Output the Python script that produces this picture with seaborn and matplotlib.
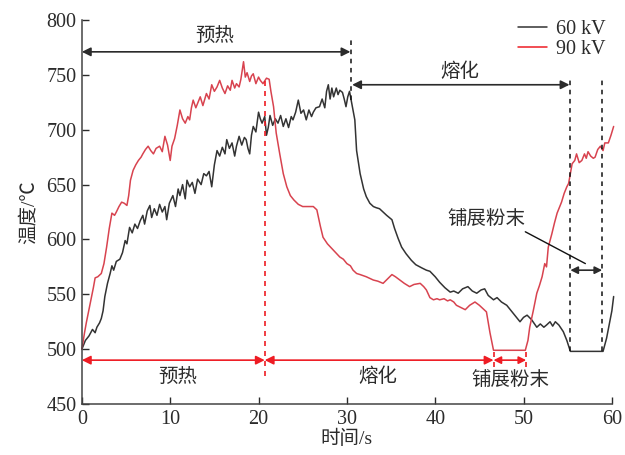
import matplotlib
matplotlib.use("Agg")
import matplotlib.pyplot as plt
import seaborn as sns
import pandas as pd
from matplotlib.lines import Line2D

# Temperature records for the two beam voltages (time in s, temperature in °C)
t_60kv = [0, 0.4, 0.8, 1.2, 1.5, 1.7, 2.0, 2.2, 2.4, 2.6, 2.9, 3.2, 3.4, 3.6, 3.9, 4.3, 4.6, 4.9,
          5.1, 5.4, 5.7, 6.0, 6.3, 6.6, 6.9, 7.1, 7.4, 7.7, 7.9, 8.2, 8.5, 8.8, 9.1, 9.4, 9.6, 9.9,
          10.3, 10.6, 10.9, 11.1, 11.4, 11.7, 11.9, 12.2, 12.5, 12.8, 13.1, 13.5, 13.8, 14.1, 14.4,
          14.7, 15.0, 15.3, 15.6, 15.9, 16.2, 16.4, 16.7, 17.0, 17.3, 17.5, 17.8, 18.1, 18.4, 18.6,
          18.8, 19.0, 19.2, 19.4, 19.7, 20.0, 20.2, 20.4, 20.7, 20.9, 21.1, 21.3, 21.6, 21.9, 22.2,
          22.5, 22.8, 23.1, 23.4, 23.7, 23.9, 24.2, 24.5, 24.8, 25.1, 25.4, 25.7, 26.0, 26.2, 26.5,
          26.9, 27.2, 27.5, 27.7, 27.9, 28.1, 28.3, 28.5, 28.8, 29.0, 29.2, 29.5, 29.7, 29.9, 30.1,
          30.3, 30.6, 30.9, 31.1, 31.5, 31.9, 32.2, 32.6, 33.0, 33.3, 33.7, 34.1, 34.5, 35.1, 35.4,
          35.8, 36.2, 36.7, 37.3, 37.8, 38.5, 39.0, 39.4, 40.0, 40.5, 41.1, 41.7, 42.1, 42.6, 43.1,
          43.7, 44.2, 44.7, 45.2, 45.6, 46.0, 46.6, 47.0, 47.5, 48.1, 48.5, 49.0, 49.6, 50.0,
          50.4, 50.9, 51.5, 51.9, 52.3, 52.6, 53.0, 53.3, 53.6, 54.0, 54.5, 54.9, 55.3, 59.0, 59.4,
          59.8, 60.0, 60.2]
T_60kv = [500, 508, 512, 518, 515, 520, 524, 528, 535, 548, 560, 569, 576, 572, 580, 582, 588, 599,
          596, 611, 606, 614, 610, 617, 622, 614, 626, 631, 620, 628, 622, 632, 625, 630, 618, 633,
          640, 630, 646, 640, 650, 637, 654, 648, 652, 642, 655, 650, 660, 658, 662,
          648, 668, 681, 676, 684, 678, 691, 683, 688, 676, 685, 694, 686, 693, 691,
          683, 678, 695, 703, 698, 716, 710, 706, 712, 695, 702, 713, 704, 710, 706,
          713, 703, 710, 702, 712, 709, 716, 727, 715, 718, 709, 718, 712, 716, 720,
          721, 728, 720, 735, 741, 728, 738, 730, 738, 732, 736, 734, 728, 721, 730,
          735, 722, 709, 681, 660, 646, 639, 633, 630, 629, 628, 625, 622, 618, 610,
          601, 593, 587, 581, 577, 574, 572, 571, 566, 561, 556, 552, 553, 551, 555,
          557, 553, 551, 554, 555, 549, 545, 547, 543, 540, 536, 531, 525, 529,
          531, 527, 520, 523, 520, 522, 525, 521, 525, 522, 516, 508, 498, 498, 510,
          527, 535, 548]

t_90kv = [0, 0.3, 0.5, 0.8, 1.1, 1.3, 1.5, 1.8, 2.2, 2.5, 2.8, 3.1, 3.4, 3.7, 3.9, 4.2, 4.5, 4.8,
          5.1, 5.3, 5.5, 5.8, 6.1, 6.4, 6.7, 6.9, 7.2, 7.5, 7.8, 8.1, 8.4, 8.8, 9.1, 9.4, 9.7,
          10.0, 10.2, 10.5, 10.8, 11.1, 11.4, 11.7, 12.0, 12.2, 12.4, 12.6, 12.9, 13.2, 13.4, 13.7,
          14.1, 14.4, 14.7, 15.0, 15.3, 15.6, 15.9, 16.2, 16.5, 16.8, 17.0, 17.3, 17.5, 17.8, 18.0,
          18.3, 18.5, 18.7, 19.0, 19.2, 19.4, 19.7, 20.0, 20.2, 20.5, 20.9, 21.2, 21.4, 21.7, 22.0,
          22.4, 22.8, 23.2, 23.6, 24.0, 24.5, 25.0, 25.5, 26.2, 26.6, 27.0, 27.3, 27.8, 28.5, 29.2,
          29.6, 30.0, 30.4, 30.7, 31.1, 31.5, 32.2, 33.0, 33.5, 34.1, 34.6, 35.1, 35.5, 36.0, 36.5,
          37.1, 37.6, 38.3, 38.7, 39.0, 39.4, 39.8, 40.2, 40.5, 41.0, 41.4, 41.7, 42.1, 42.4, 42.9,
          43.4, 43.9, 44.5, 45.0, 45.4, 45.8, 46.2, 46.6, 50.2, 50.5, 50.7, 51.1, 51.5, 51.8, 52.1,
          52.4, 52.6, 52.8, 53.2, 53.5, 53.8, 54.1, 54.3, 54.6, 54.9, 55.1, 55.3, 55.5, 55.8, 56.0,
          56.3, 56.6, 56.9, 57.1, 57.3, 57.6, 57.9, 58.1, 58.4, 58.7, 59.0, 59.2, 59.6, 59.9, 60.2]
T_90kv = [500, 515, 524, 536, 548, 556, 565, 566, 569, 578, 593, 610, 624, 622, 625, 630, 634, 633,
          631, 640, 654, 663, 668, 672, 675, 678, 682, 685, 681, 678, 683, 685, 680, 694, 686,
          672, 685, 692, 704, 718, 710, 706, 712, 709, 720, 727, 720, 726, 730, 722,
          733, 728, 741, 735, 739, 745, 738, 733, 740, 736, 745, 738, 742, 739, 746,
          762, 748, 752, 744, 749, 751, 742, 748, 745, 742, 747, 746, 735, 721, 697,
          678, 660, 648, 640, 636, 632, 630, 630, 630, 627, 612, 602, 596, 590, 584,
          582, 578, 576, 572, 569, 568, 566, 563, 562, 560, 564, 568, 566, 563, 560,
          557, 559, 560, 557, 554, 547, 545, 546, 545, 546, 544, 545, 543, 540, 538,
          536, 540, 543, 540, 537, 534, 515, 499, 499, 508, 520, 535, 551, 558, 566,
          578, 575, 593, 605, 615, 624, 630, 634, 642, 648, 651, 660, 669, 672, 678,
          670, 672, 678, 674, 680, 676, 674, 675, 682, 685, 681, 688, 688, 695, 703]

series_labels = ["60 kV", "90 kV"]
x_ticks = [0, 10, 20, 30, 40, 50, 60]
y_ticks = [450, 500, 550, 600, 650, 700, 750, 800]
stage_names = ["预热", "熔化", "铺展粉末"]

df = pd.concat([
    pd.DataFrame({"time": t_60kv, "temp": T_60kv, "series": series_labels[0]}),
    pd.DataFrame({"time": t_90kv, "temp": T_90kv, "series": series_labels[1]}),
], ignore_index=True)

sns.set_style("ticks")
plt.rcParams["font.family"] = ["Liberation Serif", "Noto Sans CJK SC"]
plt.rcParams["axes.unicode_minus"] = False

DARK = "#2b2b2b"
LINE_BLACK = "#333333"
LINE_RED = "#d8434f"
ARROW_RED = "#ee1c24"

fig = plt.figure(figsize=(6.25, 4.55), dpi=100)
ax = fig.add_axes([0.131, 0.112, 0.848, 0.844])

sns.lineplot(data=df, x="time", y="temp", hue="series", sort=False, estimator=None,
             palette={series_labels[0]: LINE_BLACK, series_labels[1]: LINE_RED},
             linewidth=1.1, ax=ax, legend=False)
for ln in ax.lines:
    ln.set_clip_on(False)

ax.set_xlim(0, 60)
ax.set_ylim(450, 800)
ax.set_xticks(x_ticks)
ax.set_yticks(y_ticks)
ax.tick_params(direction="in", length=5, width=1.0, labelsize=14.5, colors=DARK, pad=4)
for s in ("top", "right"):
    ax.spines[s].set_visible(False)
for s in ("left", "bottom"):
    ax.spines[s].set_color("#444444")
    ax.spines[s].set_linewidth(1.1)

ax.set_xlabel("时间/s", fontsize=14, color=DARK, labelpad=1)
ax.set_ylabel("温度/℃", fontsize=14, color=DARK, labelpad=6)

# Legend with short line samples
handles = [Line2D([], [], color=LINE_BLACK, lw=1.1), Line2D([], [], color=ARROW_RED, lw=1.1)]
fig.legend(handles, series_labels, loc="upper left", bbox_to_anchor=(0.829, 0.956),
           frameon=False, fontsize=14.5, handlelength=1.45, handletextpad=0.45,
           labelspacing=0.05, borderpad=0, borderaxespad=0, labelcolor=DARK)


def double_arrow(x0, x1, y, color, ms=13):
    ax.annotate("", xy=(x1, y), xytext=(x0, y),
                arrowprops=dict(arrowstyle="<|-|>", color=color, lw=1.2,
                                mutation_scale=ms, shrinkA=0, shrinkB=0),
                annotation_clip=False)


# 60 kV stages (black, upper)
double_arrow(0, 30.4, 771, DARK)
double_arrow(30.6, 55.2, 741, DARK)
double_arrow(55.3, 58.9, 572, DARK, ms=11)
ax.plot([30.5, 30.5], [727, 782], ls=(0, (3, 3)), color="#111111", lw=1.1, clip_on=False)
for xv in (55.3, 58.9):
    ax.plot([xv, xv], [498, 748], ls=(0, (3, 3)), color="#111111", lw=1.1, clip_on=False)
ax.text(15.1, 785, stage_names[0], fontsize=14, color=DARK, ha="center", va="center")
ax.text(42.8, 753, stage_names[1], fontsize=14, color=DARK, ha="center", va="center")
ax.text(45.8, 619, stage_names[2], fontsize=14, color=DARK, ha="center", va="center")
ax.plot([50.2, 57.0], [607, 578], color="#111111", lw=1.0)

# 90 kV stages (red, lower)
double_arrow(0, 20.7, 490, ARROW_RED)
double_arrow(20.7, 46.6, 490, ARROW_RED)
double_arrow(46.6, 50.3, 490, ARROW_RED, ms=11)
ax.plot([20.7, 20.7], [476, 744], ls=(0, (3, 3)), color=ARROW_RED, lw=1.2)
for xv in (46.6, 50.3):
    ax.plot([xv, xv], [484, 499], ls=(0, (3, 3)), color=ARROW_RED, lw=1.2)
ax.text(10.9, 475, stage_names[0], fontsize=14, color=DARK, ha="center", va="center")
ax.text(33.5, 475, stage_names[1], fontsize=14, color=DARK, ha="center", va="center")
ax.text(48.5, 472, stage_names[2], fontsize=14, color=DARK, ha="center", va="center")

fig.savefig("out.png", dpi=100)
